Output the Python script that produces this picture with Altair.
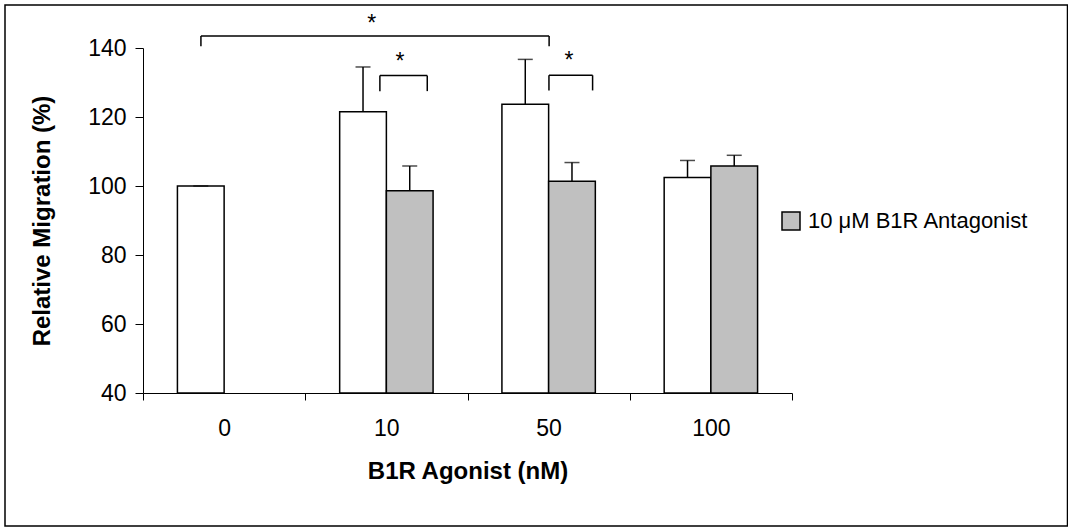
import altair as alt
import pandas as pd

# ---- data ----
categories = ["0", "10", "50", "100"]
control_name = "Control"
antag_name = "10 μM B1R Antagonist"

control_mean = [100.0, 121.5, 123.7, 102.5]
control_err = [0.0, 13.0, 13.0, 4.9]

antag_cats = ["10", "50", "100"]
antag_mean = [98.6, 101.4, 105.8]
antag_err = [7.2, 5.4, 3.1]

# significance brackets (x in category units: 0..4 across the axis)
bracket_x1 = [0.357, 1.460, 2.502]
bracket_x2 = [2.503, 1.752, 2.771]
bracket_top = [143.5, 132.0, 132.1]
bracket_leg = [140.5, 127.5, 127.7]
star_x = [1.409, 1.584, 2.626]
star_y = [145.0, 134.0, 134.3]
star_text = ["*", "*", "*"]

FONT = "Liberation Sans"

rows = []
for c, m, e in zip(categories, control_mean, control_err):
    rows.append({"cat": c, "series": control_name, "mean": m, "upper": m + e})
for c, m, e in zip(antag_cats, antag_mean, antag_err):
    rows.append({"cat": c, "series": antag_name, "mean": m, "upper": m + e})
df = pd.DataFrame(rows)

brackets = pd.DataFrame({"x1": bracket_x1, "x2": bracket_x2,
                         "top": bracket_top, "leg": bracket_leg})
stars = pd.DataFrame({"x": star_x, "y": star_y, "t": star_text})

yscale = alt.Scale(domain=[40, 140], nice=False, zero=False)
yaxis = alt.Axis(title="Relative Migration (%)", values=[40, 60, 80, 100, 120, 140],
                 tickSize=8, labelFontSize=23, labelFont=FONT, labelColor="black",
                 labelPadding=9, tickColor="black", domainColor="black",
                 titleFont=FONT, titleFontSize=24, titleFontWeight="bold",
                 titleColor="black", titlePadding=33, grid=False)
xband = alt.X("cat:N", sort=categories,
              scale=alt.Scale(domain=categories, paddingInner=0, paddingOuter=0),
              axis=alt.Axis(title="B1R Agonist (nM)", tickBand="extent", tickSize=7,
                            labelAngle=0, labelPadding=17, labelFontSize=23,
                            labelFont=FONT, labelColor="black", tickColor="black",
                            domainColor="black", titleFont=FONT, titleFontSize=24,
                            titleFontWeight="bold", titleColor="black", titlePadding=19,
                            grid=False))
xoff = alt.XOffset("series:N",
                   scale=alt.Scale(domain=[control_name, antag_name],
                                   paddingInner=0, paddingOuter=0.737))

bars = alt.Chart(df).mark_bar(stroke="black", strokeWidth=1.5).encode(
    x=xband,
    xOffset=xoff,
    y=alt.Y("mean:Q", scale=yscale, axis=yaxis),
    y2=alt.datum(40),
    fill=alt.Fill("series:N",
                  scale=alt.Scale(domain=[control_name, antag_name],
                                  range=["white", "#C0C0C0"]),
                  legend=alt.Legend(values=[antag_name], title=None, orient="none",
                                    legendX=637, legendY=162, symbolType="square",
                                    symbolSize=324, symbolStrokeColor="black",
                                    symbolStrokeWidth=1.5, labelFont=FONT,
                                    labelFontSize=22, labelColor="black",
                                    labelLimit=400, labelOffset=6, padding=0)),
)

err_rule = alt.Chart(df).mark_rule(color="black", strokeWidth=1.5).encode(
    x=xband, xOffset=xoff,
    y=alt.Y("mean:Q", scale=yscale, axis=yaxis), y2="upper:Q")

err_cap = alt.Chart(df).mark_tick(color="black", size=15, thickness=1.5,
                                  orient="horizontal").encode(
    x=xband, xOffset=xoff, y=alt.Y("upper:Q", scale=yscale, axis=yaxis))

main = alt.layer(bars, err_rule, err_cap)

xq = alt.Scale(domain=[0, 4], nice=False, zero=False)
b_h = alt.Chart(brackets).mark_rule(color="black", strokeWidth=1.5).encode(
    x=alt.X("x1:Q", scale=xq, axis=None), x2="x2:Q",
    y=alt.Y("top:Q", scale=yscale, axis=yaxis))
b_l = alt.Chart(brackets).mark_rule(color="black", strokeWidth=1.5).encode(
    x=alt.X("x1:Q", scale=xq, axis=None),
    y=alt.Y("top:Q", scale=yscale, axis=yaxis), y2="leg:Q")
b_r = alt.Chart(brackets).mark_rule(color="black", strokeWidth=1.5).encode(
    x=alt.X("x2:Q", scale=xq, axis=None),
    y=alt.Y("top:Q", scale=yscale, axis=yaxis), y2="leg:Q")
star = alt.Chart(stars).mark_text(font=FONT, fontSize=23, color="black",
                                  align="center", baseline="alphabetic").encode(
    x=alt.X("x:Q", scale=xq, axis=None),
    y=alt.Y("y:Q", scale=yscale, axis=yaxis), text="t:N")

frame = alt.Chart(alt.Data(values=[{}])).mark_rect(
    fill="transparent", stroke="black", strokeWidth=1.5).encode(
    x=alt.value(-138), x2=alt.value(924.5), y=alt.value(-43), y2=alt.value(478))

annot = alt.layer(b_h, b_l, b_r, star, frame)

chart = alt.layer(main, annot).resolve_scale(x="independent").properties(
    width=649, height=345,
    autosize=alt.AutoSizeParams(type="none"),
    padding={"left": 143, "top": 48, "right": 276, "bottom": 134},
    background="white",
).configure_view(strokeWidth=0)

chart.save("out.html", embed_options={"renderer": "svg", "actions": False})
